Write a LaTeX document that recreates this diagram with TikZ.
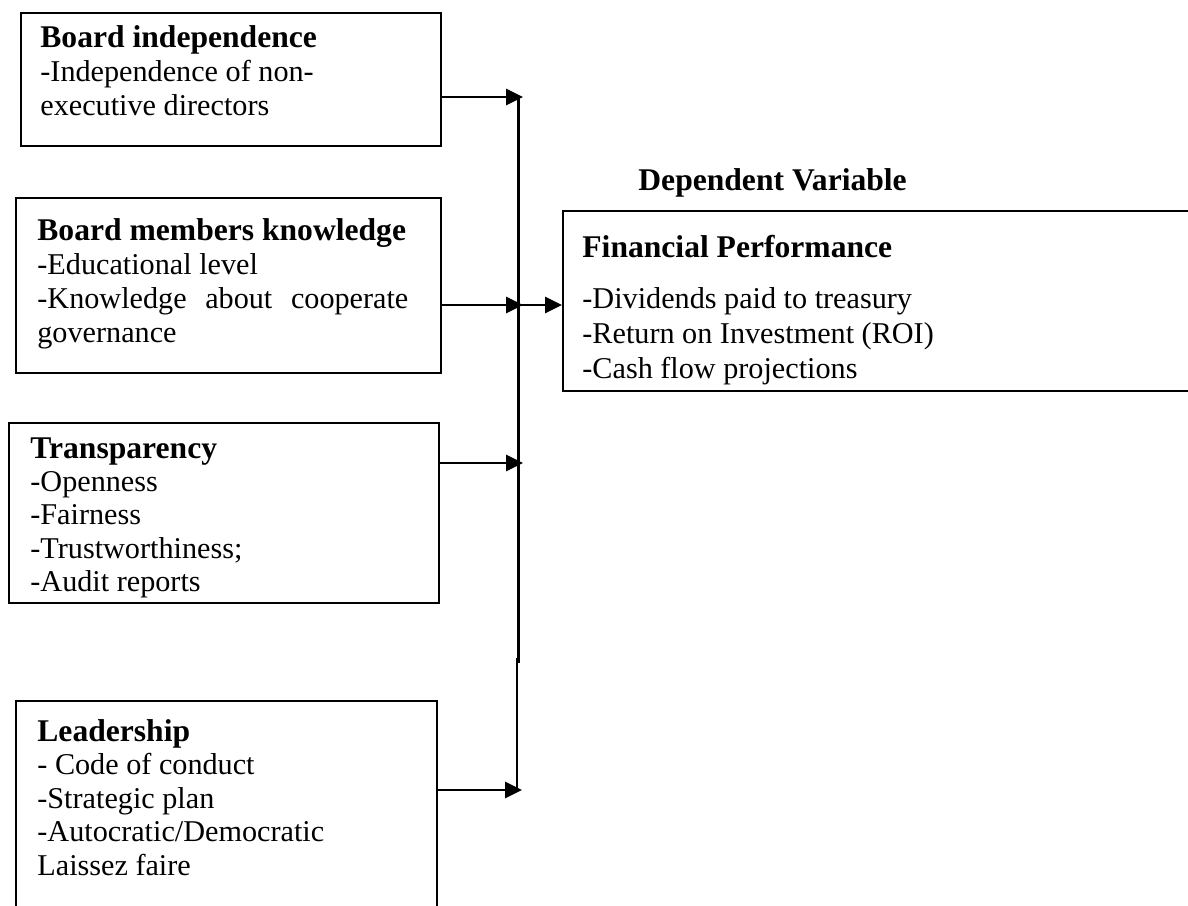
\documentclass[tikz,border=0pt]{standalone}
\usepackage{fontspec}
\setmainfont{Liberation Serif}
\usetikzlibrary{arrows.meta}
\begin{document}
\begin{tikzpicture}[x=0.5pt,y=-0.5pt,
  box/.style={draw, line width=1pt, inner sep=0pt, anchor=north west},
  txt/.style={anchor=base west, inner sep=0pt, font=\fontsize{15.1}{17}\selectfont},
  ttl/.style={txt, font=\fontsize{15.8}{17}\selectfont\bfseries},
  conn/.style={line width=1.4pt, -{Triangle[length=8.5pt,width=8pt]}},
  vline/.style={line width=1.5pt},
  vthin/.style={line width=1pt},
  ]
\useasboundingbox (0,0) rectangle (1188,905);
% boxes
\node[box, minimum width=210pt, minimum height=66.5pt] (b1) at (20,12) {};
\node[box, minimum width=212.5pt, minimum height=87.5pt] (b2) at (15,197) {};
\node[box, minimum width=215pt, minimum height=90pt] (b3) at (8,422) {};
\node[box, minimum width=210.5pt, minimum height=115pt] (b4) at (15,700) {};
\node[box, minimum width=325pt, minimum height=90pt] (b5) at (562,210) {};
% texts
\node[ttl] (t1a) at (40,47) {Board independence};
\node[txt] (t1b) at (40,81) {-Independence of non-};
\node[txt] (t1c) at (40,115) {executive directors};
\node[ttl] (t2a) at (37,240) {Board members knowledge};
\node[txt] (t2b) at (37,274) {-Educational level};
\node[txt] (t2c) at (37,308) {\hbox to 185.5pt{-Knowledge\hfil about\hfil cooperate}};
\node[txt] (t2d) at (37,342) {governance};
\node[ttl] (t3a) at (30,458) {Transparency};
\node[txt] (t3b) at (30,491) {-Openness};
\node[txt] (t3c) at (30,524) {-Fairness};
\node[txt] (t3d) at (30,558) {-Trustworthiness;};
\node[txt] (t3e) at (30,591) {-Audit reports};
\node[ttl] (t4a) at (37,741) {Leadership};
\node[txt] (t4b) at (37,774) {- Code of conduct};
\node[txt] (t4c) at (37,808) {-Strategic plan};
\node[txt] (t4d) at (37,841) {-Autocratic/Democratic};
\node[txt] (t4e) at (37,875) {Laissez faire};
\node[ttl] (dv) at (638,190) {Dependent Variable};
\node[ttl] (t5a) at (582,257) {Financial Performance};
\node[txt] (t5b) at (582,308) {-Dividends paid to treasury};
\node[txt] (t5c) at (582,343) {-Return on Investment (ROI)};
\node[txt] (t5d) at (582,378) {-Cash flow projections};
% connectors
\coordinate (j1) at (523,97);
\coordinate (j2) at (523,305);
\coordinate (j3) at (523,463);
\coordinate (j4) at (522,790);
\coordinate (vtop) at (518,97);
\coordinate (vmid) at (518,663);
\coordinate (vmid2) at (517,658);
\coordinate (vbot) at (517,790);
\coordinate (jo) at (518,305);
\draw[vline] (vtop) -- (vmid);
\draw[vthin] (vmid2) -- (vbot);
\draw[conn] (b1.east |- j1) -- (j1);
\draw[conn] (b2.east |- j2) -- (j2);
\draw[conn] (b3.east |- j3) -- (j3);
\draw[conn] (b4.east |- j4) -- (j4);
\draw[conn] (jo) -- (jo -| b5.west);
\end{tikzpicture}
\end{document}
